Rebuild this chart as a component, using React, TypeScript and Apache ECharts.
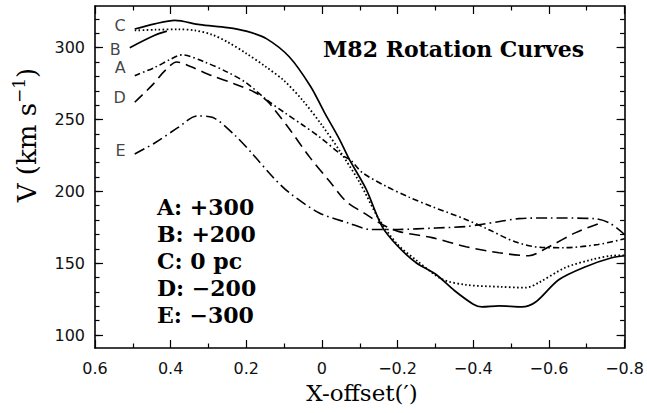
import React, { useEffect, useRef } from "react";
import * as echarts from "echarts";

// ---- data ----
const curveA: number[][] = [
  [0.495, 280.5], [0.44, 286.5], [0.4, 292], [0.37, 295], [0.31, 290], [0.25, 283],
  [0.2, 275.5], [0.145, 263.5], [0.1, 255], [0.05, 246], [0.007, 238], [-0.054, 225],
  [-0.075, 222], [-0.107, 213], [-0.17, 203.5], [-0.23, 196], [-0.29, 189.5],
  [-0.38, 180.5], [-0.44, 173.5], [-0.51, 165], [-0.58, 161], [-0.64, 160.8],
  [-0.73, 163], [-0.8, 167],
];
const curveB: number[][] = [
  [0.495, 312], [0.44, 312.5], [0.38, 312.8], [0.336, 312], [0.29, 309], [0.25, 304],
  [0.2, 296], [0.15, 287], [0.1, 277], [0.05, 263], [0.0, 246], [-0.05, 227],
  [-0.1, 206], [-0.15, 181], [-0.2, 163], [-0.25, 152],
  [-0.317, 139], [-0.38, 135], [-0.47, 133.6], [-0.54, 133], [-0.573, 136.5],
  [-0.644, 147], [-0.713, 152.5], [-0.766, 155.2], [-0.8, 155.5],
];
const curveBStart: number[][] = [[0.508, 300], [0.442, 308.6], [0.41, 311.5]];
const curveC: number[][] = [
  [0.495, 313], [0.442, 316.6], [0.389, 319], [0.323, 316], [0.25, 314], [0.2, 311.5],
  [0.147, 306.3], [0.086, 293.5], [0.03, 273], [-0.006, 255.2], [-0.046, 236.4],
  [-0.072, 222.4], [-0.117, 201.4], [-0.159, 175.5], [-0.2, 162], [-0.249, 150.3],
  [-0.3, 142.5], [-0.35, 131], [-0.4, 121.5], [-0.423, 119.6], [-0.468, 120.3],
  [-0.528, 119.6], [-0.565, 123], [-0.626, 138.5], [-0.697, 147.6], [-0.766, 153.8],
  [-0.8, 155.2],
];
const curveD: number[][] = [
  [0.495, 262], [0.45, 273.6], [0.415, 284], [0.384, 290], [0.344, 286.5], [0.292, 280.6],
  [0.231, 274.8], [0.178, 269], [0.145, 263], [0.12, 255], [0.086, 243.4], [0.033, 224],
  [-0.02, 207], [-0.064, 193], [-0.117, 184], [-0.159, 177], [-0.204, 172], [-0.291, 167.8],
  [-0.381, 161.5], [-0.468, 157.3], [-0.547, 155.2], [-0.6, 161.5], [-0.671, 171.3],
  [-0.739, 178.3],
];
const curveE: number[][] = [
  [0.495, 226], [0.44, 234], [0.38, 244.5], [0.33, 252.5], [0.29, 251.5], [0.23, 239],
  [0.18, 225], [0.13, 210], [0.086, 199], [0.007, 185], [-0.07, 178], [-0.13, 173.5],
  [-0.2, 173.5], [-0.3, 174.5], [-0.38, 175.5], [-0.42, 177], [-0.47, 179], [-0.52, 181],
  [-0.6, 181.5], [-0.72, 181], [-0.76, 178], [-0.8, 170],
];
const curveLetters = ["C", "B", "A", "D", "E"];
const legendLines = ["A: +300", "B: +200", "C: 0 pc", "D: \u2212200", "E: \u2212300"];
const yMajorTicks = [100, 150, 200, 250, 300];
const yMinorTicks = [100, 110, 120, 130, 140, 150, 160, 170, 180, 190, 200, 210, 220, 230, 240, 250, 260, 270, 280, 290, 300, 310, 320];
const titleText = "M82 Rotation Curves";
const xName = "X-offset(\u2032)";

const BLACK = "#000";

export default function App() {
  const ref = useRef<HTMLDivElement>(null);
  useEffect(() => {
    if (!ref.current) return;
    const chart = echarts.init(ref.current, null, { renderer: "svg" });
    const tickLine = { color: BLACK, width: 1.2 };
    const frameLine = { show: true, onZero: false, lineStyle: { color: BLACK, width: 1.6 } };
    const noLine = { show: false, onZero: false };
    const labelFont = { color: "#111", fontFamily: "DejaVu Sans", fontSize: 16 };
    const mkX = (pos: string, labels: boolean) => ({
      type: "value",
      min: -0.8,
      max: 0.6,
      interval: 0.2,
      inverse: true,
      position: pos,
      axisLine: frameLine,
      axisTick: { show: true, inside: true, length: 8, lineStyle: tickLine },
      minorTick: { show: true, splitNumber: 2, length: 4.5, lineStyle: tickLine },
      splitLine: { show: false },
      minorSplitLine: { show: false },
      axisLabel: {
        show: labels,
        margin: 12,
        ...labelFont,
        formatter: (v: number) => {
          const r = Math.round(v * 10) / 10;
          return r === 0 ? "0" : r < 0 ? "\u2212" + Math.abs(r).toFixed(1) : r.toFixed(1);
        },
      },
    });
    const mkY = (pos: string, ticks: number[], len: number, line: boolean, labels: boolean) => ({
      type: "value",
      min: 91,
      max: 329,
      position: pos,
      axisLine: line ? frameLine : noLine,
      axisTick: { show: true, inside: true, length: len, customValues: ticks, lineStyle: tickLine },
      axisLabel: { show: labels, margin: 10, customValues: ticks, ...labelFont },
      splitLine: { show: false },
    });
    const lineSeries = (name: string, data: number[][], type: any, width = 1.6) => ({
      name,
      type: "line",
      data,
      xAxisIndex: 0,
      yAxisIndex: 0,
      smooth: 0.3,
      showSymbol: false,
      symbol: "none",
      lineStyle: { color: BLACK, width, type, cap: "butt" },
      silent: true,
    });
    const starts = [curveC, curveBStart, curveA, curveD, curveE];
    const labelData = starts.map((c, i) => [c[0][0], c[0][1], curveLetters[i]]);
    const labelOffsets = [[0, -3], [0, 2], [0, -8], [0, -5], [0, -4]];
    chart.setOption({
      animation: false,
      backgroundColor: "#fff",
      grid: { left: 95, right: 21, top: 6, bottom: 65, containLabel: false },
      xAxis: [mkX("bottom", true), mkX("top", false)],
      yAxis: [
        mkY("left", yMajorTicks, 8, true, true),
        mkY("left", yMinorTicks, 4.5, false, false),
        mkY("right", yMajorTicks, 8, true, false),
        mkY("right", yMinorTicks, 4.5, false, false),
      ],
      series: [
        lineSeries("C", curveC, "solid", 1.7),
        lineSeries("B", curveB, [1.6, 2.4], 1.8),
        lineSeries("B0", curveBStart, "solid", 1.7),
        lineSeries("A", curveA, [6, 3, 1.6, 3]),
        lineSeries("D", curveD, [11, 6]),
        lineSeries("E", curveE, [11, 4, 1.6, 4]),
        {
          type: "scatter",
          xAxisIndex: 0,
          yAxisIndex: 0,
          symbolSize: 0,
          silent: true,
          data: labelData.map((d, i) => ({
            value: d,
            label: { offset: labelOffsets[i] },
          })),
          label: {
            show: true,
            position: "left",
            distance: 9,
            formatter: (p: any) => p.value[2],
            ...labelFont,
          },
        },
      ],
      graphic: [
        {
          type: "text",
          left: 323,
          top: 38,
          style: {
            text: titleText,
            font: "bold 22px 'DejaVu Serif'",
            fill: BLACK,
          },
        },
        {
          type: "text",
          left: 157,
          top: 193,
          style: {
            text: legendLines.join("\n"),
            font: "bold 22px 'DejaVu Serif'",
            lineHeight: 27,
            fill: BLACK,
          },
        },
        {
          type: "text",
          x: 362,
          y: 393,
          style: {
            text: xName,
            font: "23px 'DejaVu Serif'",
            align: "center",
            verticalAlign: "middle",
            fill: BLACK,
          },
        },
        {
          type: "text",
          x: 25,
          y: 135,
          rotation: Math.PI / 2,
          style: {
            text: "{a|V (km s}{b|\u22121}{a|)}",
            align: "center",
            verticalAlign: "middle",
            fill: BLACK,
            rich: {
              a: { fontFamily: "DejaVu Serif", fontSize: 26, lineHeight: 30, verticalAlign: "bottom", fill: BLACK },
              b: { fontFamily: "DejaVu Serif", fontSize: 17, lineHeight: 17, verticalAlign: "top", fill: BLACK },
            },
          },
        },
      ],
    });
    return () => chart.dispose();
  }, []);
  return (
    <div
      ref={ref}
      style={{ position: "absolute", left: 0, top: 0, width: 647, height: 413, background: "#fff" }}
    />
  );
}
